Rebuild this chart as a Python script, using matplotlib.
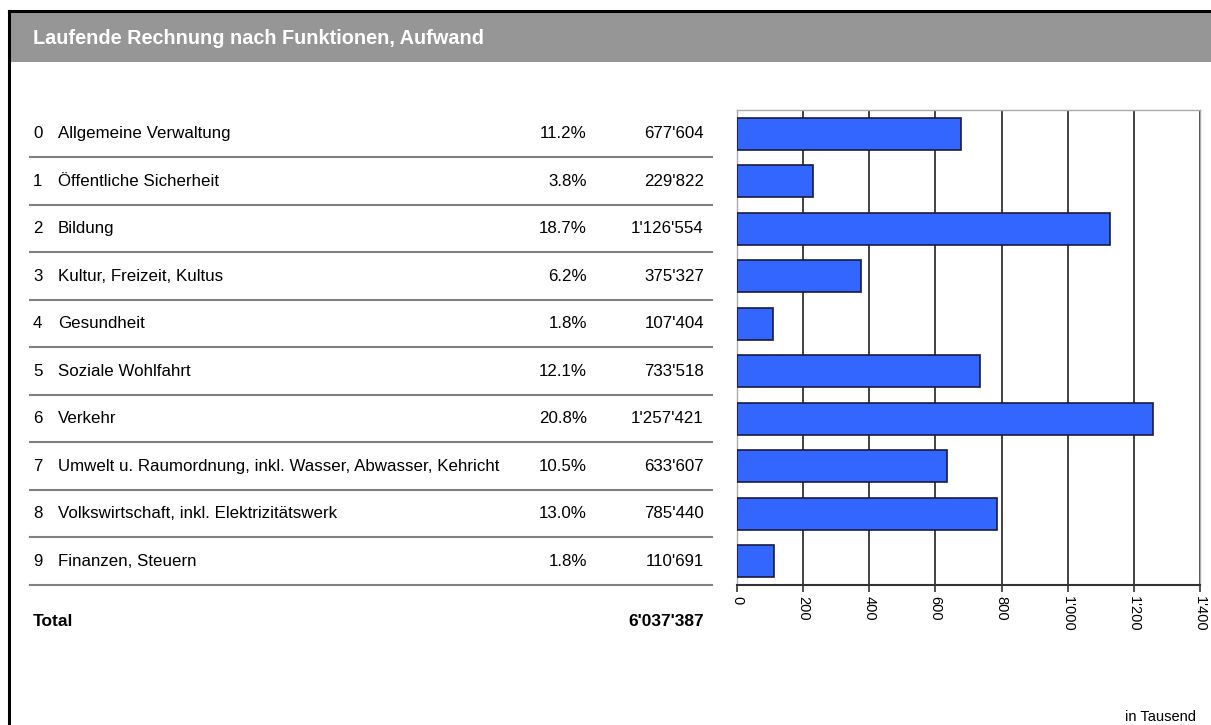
import matplotlib
matplotlib.use("Agg")
import matplotlib.pyplot as plt
from matplotlib.patches import Rectangle
from matplotlib.ticker import FuncFormatter

plt.rcParams["font.family"] = ["Liberation Sans", "DejaVu Sans"]

# data
codes = ["0", "1", "2", "3", "4", "5", "6", "7", "8", "9"]
labels = [
    "Allgemeine Verwaltung",
    "Öffentliche Sicherheit",
    "Bildung",
    "Kultur, Freizeit, Kultus",
    "Gesundheit",
    "Soziale Wohlfahrt",
    "Verkehr",
    "Umwelt u. Raumordnung, inkl. Wasser, Abwasser, Kehricht",
    "Volkswirtschaft, inkl. Elektrizitätswerk",
    "Finanzen, Steuern",
]
shares = ["11.2%", "3.8%", "18.7%", "6.2%", "1.8%", "12.1%", "20.8%", "10.5%", "13.0%", "1.8%"]
values = [677604, 229822, 1126554, 375327, 107404, 733518, 1257421, 633607, 785440, 110691]
total_label = "6'037'387"
x_ticks = [0, 200, 400, 600, 800, 1000, 1200, 1400]


def swiss(v):
    return f"{int(round(v)):,}".replace(",", "'")


W, H = 1211, 725
fig = plt.figure(figsize=(W / 100, H / 100), dpi=100)

# frame and header band
fig.patches.append(Rectangle((10 / W, 1 - 62 / H), 1 - 10 / W, 50 / H,
                             transform=fig.transFigure, facecolor="#969696",
                             edgecolor="none", zorder=0))
fig.add_artist(plt.Line2D([9 / W, 1], [1 - 11 / H, 1 - 11 / H],
                          transform=fig.transFigure, color="black", lw=2.2))
fig.add_artist(plt.Line2D([9 / W, 9 / W], [0, 1 - 11 / H],
                          transform=fig.transFigure, color="black", lw=2.2))
fig.text(33 / W, 1 - 38 / H, "Laufende Rechnung nach Funktionen, Aufwand",
         color="white", fontsize=14.3, fontweight="bold", va="center", ha="left")

top_px, bot_px = 110, 585
ax_b = 1 - bot_px / H
ax_h = (bot_px - top_px) / H
n = len(values)

# bar chart
ax = fig.add_axes([737 / W, ax_b, (1200 - 737) / W, ax_h])
vals_k = [v / 1000 for v in values]
ax.barh(range(n), vals_k, height=0.68, color="#3366ff", edgecolor="#1a1a40",
        linewidth=1.2, zorder=3)
ax.set_xlim(0, 1400)
ax.set_ylim(n - 0.5, -0.5)
ax.set_xticks(x_ticks)
ax.xaxis.set_major_formatter(FuncFormatter(lambda v, p: swiss(v)))
ax.tick_params(axis="x", direction="out", length=5, width=1.2, color="#333333",
               labelrotation=-90, labelsize=10.5, pad=3)
ax.set_yticks([])
ax.grid(axis="x", color="#222222", lw=1.2, zorder=1)
for s in ["top", "right", "left"]:
    ax.spines[s].set_color("#aaaaaa")
    ax.spines[s].set_linewidth(1)
ax.spines["bottom"].set_color("#333333")
ax.spines["bottom"].set_linewidth(1.5)

# table on the left, sharing the row scale
tab = fig.add_axes([0, ax_b, 737 / W, ax_h])
tab.set_xlim(0, 737)
tab.set_ylim(n - 0.5, -0.5)
tab.axis("off")
fs = 12.2
for i in range(n):
    tab.text(33, i, codes[i], fontsize=fs, va="center", ha="left")
    tab.text(58, i, labels[i], fontsize=fs, va="center", ha="left")
    tab.text(587, i, shares[i], fontsize=fs, va="center", ha="right")
    tab.text(704, i, swiss(values[i]), fontsize=fs, va="center", ha="right")
    tab.plot([30, 712], [i + 0.5, i + 0.5], color="#808080", lw=1.5, clip_on=False)

total_row = n + 0.26
tab.text(33, total_row, "Total", fontsize=12.5, fontweight="bold", va="center", ha="left")
tab.text(704, total_row, total_label, fontsize=12.5, fontweight="bold", va="center", ha="right")

fig.text(1196 / W, 1 - 717 / H, "in Tausend", fontsize=10.5, ha="right", va="center")

fig.savefig("out.png", dpi=100)
